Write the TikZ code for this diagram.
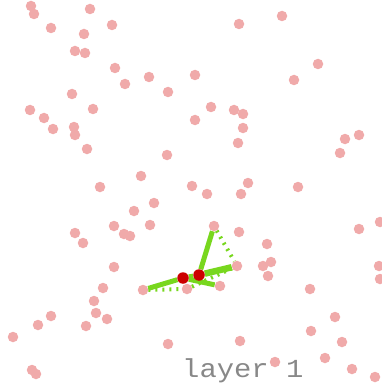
\documentclass[tikz,border=0pt]{standalone}
\usepackage{fontspec}
\newfontfamily\layerfont[FakeStretch=1.11]{Liberation Mono}
\usetikzlibrary{backgrounds}
\definecolor{dotpink}{RGB}{240,170,170}
\definecolor{seedred}{RGB}{204,0,0}
\definecolor{linkgreen}{RGB}{120,215,30}
\definecolor{labelgray}{RGB}{136,136,136}
\begin{document}
\begin{tikzpicture}[x=1pt,y=-1pt]
            %
            % `point' is used for the scattered (pink) points.
            % `seed' is used for the two red points.
            % `link' is used for the solid green connections.
            % `weak' is used for the dotted green connections.
            \tikzstyle{point} = [fill=dotpink,shape=circle,minimum size=10.5pt,inner sep=0pt]
            \tikzstyle{seed} = [fill=seedred,shape=circle,minimum size=11.5pt,inner sep=0pt]
            \tikzstyle{link} = [draw=linkgreen,line width=5pt]
            \tikzstyle{weak} = [draw=linkgreen,line width=4pt,dash pattern=on 2pt off 5pt]
            \useasboundingbox (0,0) rectangle (382,385);
            %
            % Scattered points
            \foreach \x/\y [count=\i] in {31/6,34/14,90/9,51/28,112/25,84/34,75/51,85/53,
                239/24,282/16,115/68,125/84,149/77,195/75,168/92,72/94,93/109,30/110,
                44/118,53/129,74/127,75/135,87/149,211/107,234/110,243/114,243/128,
                195/120,238/143,294/80,318/64,345/139,359/135,340/153,167/155,141/176,
                100/187,192/186,207/194,248/183,241/194,298/187,154/203,134/211,
                114/226,124/234,130/236,150/225,75/233,83/243,239/232,267/244,380/222,
                359/229,263/266,271/262,268/276,114/267,103/288,379/266,380/279,
                310/289,94/301,96/313,107/319,86/326,51/316,38/325,13/337,335/317,
                311/331,342/342,168/344,240/341,325/358,352/369,375/377,275/362,
                32/370,36/374}
                \node[point] (p\i) at (\x,\y) {};
            %
            % Neighbours of the seeds
            \node[point] (na) at (214,226) {};
            \node[point] (nb) at (237,266) {};
            \node[point] (nc) at (143,290) {};
            \node[point] (nd) at (187,289) {};
            \node[point] (ne) at (220,286) {};
            %
            % Seeds
            \node[seed] (s1) at (183,278) {};
            \node[seed] (s2) at (199,275) {};
            %
            % Connections
            \begin{scope}[on background layer]
                \draw[weak] (na) -- (nb);
                \draw[weak] (nc) -- (nd);
                \draw[weak] (nd) -- (nb);
                \draw[link] (s1) -- (s2);
                \draw[link] (s2) -- (na);
                \draw[link,line width=6.5pt] (s2) -- (nb);
                \draw[link] (s1) -- (nc);
                \draw[link] (s1) -- (ne);
            \end{scope}
            %
            % Label
            \node[anchor=base west,inner sep=0pt,text=labelgray,font=\layerfont\fontsize{26}{26}\selectfont] (title) at (182,377) {layer 1};
        \end{tikzpicture}
\end{document}
